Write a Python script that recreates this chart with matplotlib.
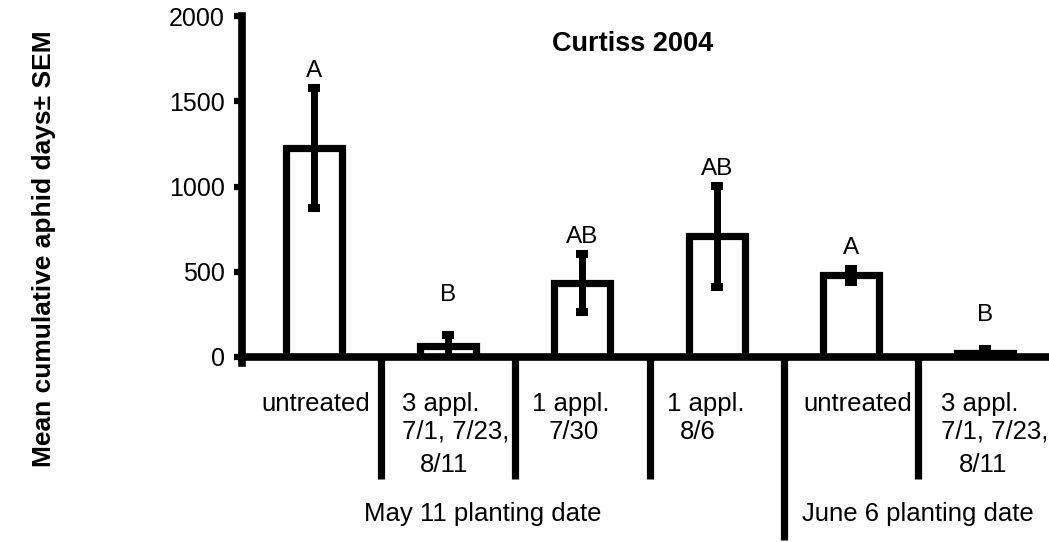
import numpy as np
import matplotlib
matplotlib.use("Agg")
import matplotlib.pyplot as plt

plt.rcParams['font.family'] = ['Liberation Sans', 'DejaVu Sans']

# ---------------------------------------------------------------- data
treatments = ["untreated", "3 appl.", "1 appl.", "1 appl.", "untreated", "3 appl."]
# extra text lines under each treatment name
treatment_dates = [[], ["7/1, 7/23,", "8/11"], ["7/30"], ["8/6"], [], ["7/1, 7/23,", "8/11"]]
mean_days = [1225, 62, 434, 707, 480, 26]
sem_days = [352, 67, 172, 296, 38, 20]
letters = ["A", "B", "AB", "AB", "A", "B"]
letter_y = [1642, 328, 668, 1067, 604, 211]
planting_dates = ["May 11 planting date", "June 6 planting date"]
group_sizes = [4, 2]
y_ticks = [0, 500, 1000, 1500, 2000]

# ---------------------------------------------------------------- layout (pixels)
PX = 134.2          # pixels per category
X0 = 314            # pixel x of the first bar
LW = 5.2            # black line width, points

# left offset of each text line (px) relative to the bar centre
line_dx = [[-53], [-46, -46, -28], [-50, -34], [-50, -37], [-47], [-44, -44, -26]]
line_dy = [-54, -82, -115]   # baselines below the axis line
group_px = [483, 918]        # centres of the planting date labels

fig = plt.figure(figsize=(10.49, 5.42), dpi=100)
ax = fig.add_axes([242 / 1049, 1 - 357 / 542, 807 / 1049, 341 / 542])

x = np.arange(len(treatments))
ax.bar(x, mean_days, width=0.417, facecolor='white', edgecolor='black',
       linewidth=LW, zorder=2)
ax.errorbar(x, mean_days, yerr=sem_days, fmt='none', ecolor='black',
            elinewidth=5, capsize=4, capthick=5.8, zorder=3)

for i, let in enumerate(letters):
    ax.text(x[i], letter_y[i], let, ha='center', va='baseline', fontsize=17.5)

left = (242 - X0) / PX
ax.set_xlim(left, left + 807 / PX)
ax.set_ylim(0, 2000)
ax.set_yticks(y_ticks)
ax.set_xticks([])
ax.tick_params(axis='y', direction='out', length=5.5, width=4.5, pad=7,
               labelsize=18)

for s in ['top', 'right']:
    ax.spines[s].set_visible(False)
for s in ['left', 'bottom']:
    ax.spines[s].set_linewidth(5.5)
ax.spines['left'].set_bounds(-35, 2000)

# category text under the axis
for i in range(len(treatments)):
    lines = [treatments[i]] + treatment_dates[i]
    for j, txt in enumerate(lines):
        ax.annotate(txt, xy=(x[i], 0), xycoords=('data', 'axes fraction'),
                    xytext=(line_dx[i][j], line_dy[j]), textcoords='offset pixels',
                    ha='left', va='baseline', fontsize=18.5, annotation_clip=False)

# separators between treatments, long one between planting dates
trans = ax.get_xaxis_transform()
bounds = np.cumsum(group_sizes)[:-1]
for k in range(len(treatments) - 1):
    xs = x[k] + 0.5
    depth = 183 if (k + 1) in bounds else 122
    ax.plot([xs, xs], [0, -depth / 341], color='black', lw=LW,
            transform=trans, clip_on=False, solid_capstyle='butt', zorder=1)

# planting date labels
for g, name in enumerate(planting_dates):
    xc = (group_px[g] - X0) / PX
    ax.annotate(name, xy=(xc, 0), xycoords=('data', 'axes fraction'),
                xytext=(0, -164), textcoords='offset pixels',
                ha='center', va='baseline', fontsize=18.5, annotation_clip=False)

fig.text(552 / 1049, 1 - 51 / 542, "Curtiss 2004", ha='left', va='baseline',
         fontsize=19.5, fontweight='bold')
fig.text(44 / 1049, 1 - 249 / 542, "Mean cumulative aphid days± SEM",
         rotation=90, ha='center', va='center', fontsize=19, fontweight='bold')

fig.savefig("out.png", dpi=100)
